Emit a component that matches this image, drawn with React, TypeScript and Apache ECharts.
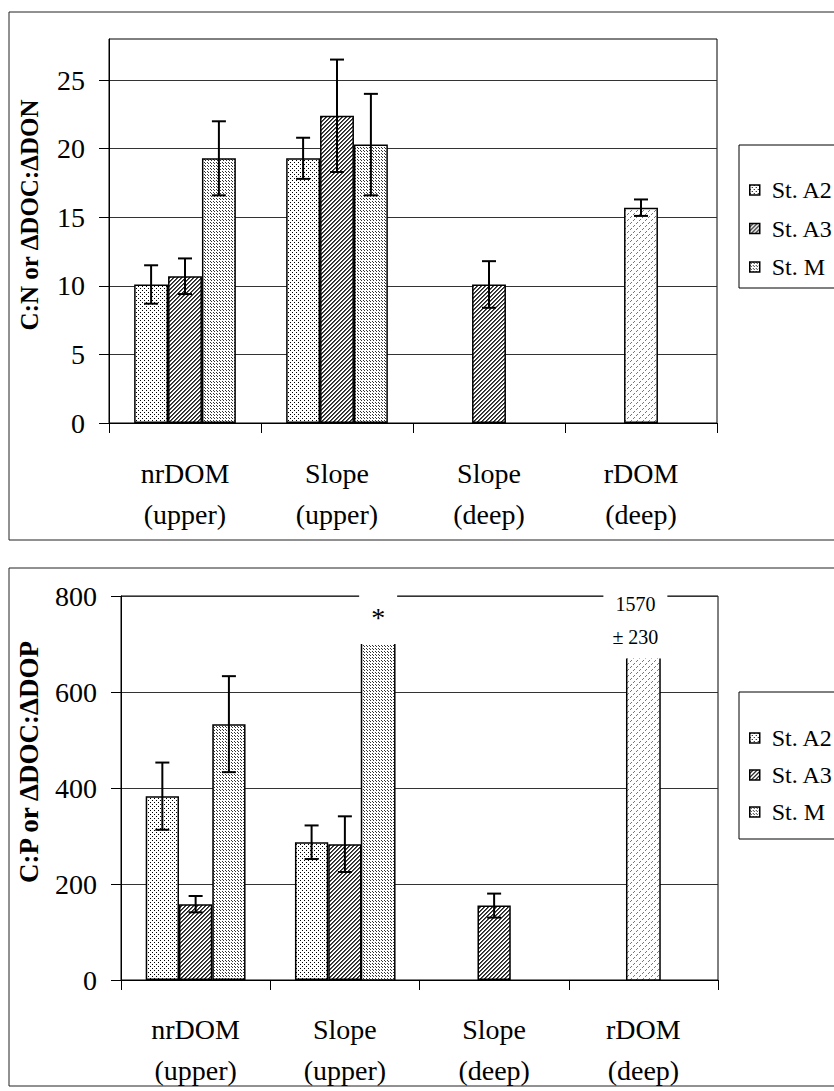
import React, { useEffect, useRef } from 'react';
import * as echarts from 'echarts';

// ---------- data ----------
const categories = ['nrDOM\n(upper)', 'Slope\n(upper)', 'Slope\n(deep)', 'rDOM\n(deep)'];
const seriesNames = ['St. A2', 'St. A3', 'St. M'];

// C:N or ΔDOC:ΔDON (top chart)
const cnA2 = [10.1, 19.3, null, null];
const cnA2Err = [1.4, 1.5, null, null];
const cnA3 = [10.7, 22.4, 10.1, 15.7]; // rDOM (deep) drawn in the A3 slot with its own fill
const cnA3Err = [1.3, 4.1, 1.7, 0.6];
const cnM = [19.3, 20.3, null, null];
const cnMErr = [2.7, 3.7, null, null];
const cnTicks = [0, 5, 10, 15, 20, 25];

// C:P or ΔDOC:ΔDOP (bottom chart) — truncated bars are shown at their cut height
const cpA2 = [383, 287, null, null];
const cpA2Err = [70, 35, null, null];
const cpA3 = [158, 283, 155, 670];
const cpA3Err = [17, 58, 25, null];
const cpA3Truncated = [false, false, false, true];
const cpA3Note = [null, null, null, '1570\n± 230'];
const cpM = [533, 700, null, null];
const cpMErr = [100, null, null, null];
const cpMTruncated = [false, true, false, false];
const cpMNote = [null, '*', null, null];

const specialIdx = 3; // rDOM (deep) bar, separate fill

// ---------- styles ----------
const FONT = 'Liberation Serif';
const BAR_RATIO = 0.223;

function makePattern(w: number, h: number, pts: [number, number, string][]) {
  const c = document.createElement('canvas');
  c.width = w;
  c.height = h;
  const ctx = c.getContext('2d')!;
  ctx.fillStyle = '#ffffff';
  ctx.fillRect(0, 0, w, h);
  for (const [x, y, col] of pts) {
    ctx.fillStyle = col;
    ctx.fillRect(x, y, 1, 1);
  }
  return { image: c, repeat: 'repeat', imageWidth: w, imageHeight: h } as any;
}

export default function App() {
  const ref = useRef<HTMLDivElement>(null);

  useEffect(() => {
    const chart = echarts.init(ref.current!, null, { renderer: 'svg' });

    const pA2 = makePattern(4, 4, [[0, 0, '#000'], [2, 2, '#000']]);
    const pA3 = makePattern(4, 4, [
      [2, 0, '#222'], [3, 0, '#555'], [1, 1, '#222'], [2, 1, '#555'],
      [0, 2, '#222'], [1, 2, '#555'], [3, 3, '#222'], [0, 3, '#555'],
    ]);
    const pM = makePattern(3, 3, [[0, 0, '#333'], [1, 1, '#333']]);
    const pR = makePattern(6, 6, [[1, 0, '#777'], [0, 1, '#777'], [4, 3, '#777'], [3, 4, '#777']]);
    const fills = [pA2, pA3, pM];

    const labelStyles: Record<string, any> = {
      '*': {
        fontSize: 28, fontFamily: FONT, color: '#000', lineHeight: 28,
        backgroundColor: '#fff', padding: [14, 12, 10, 12], distance: 3,
      },
      num: {
        fontSize: 20, fontFamily: FONT, color: '#000', lineHeight: 33,
        backgroundColor: '#fff', padding: [0, 9, 2, 9], distance: 3, offset: [-8, 0],
      },
    };

    const bars = (
      gi: number,
      vals: (number | null)[][],
      truncated: (boolean[] | null)[],
      notes: ((string | null)[] | null)[]
    ) =>
      vals.map((arr, s) => ({
        type: 'bar',
        name: seriesNames[s],
        xAxisIndex: gi,
        yAxisIndex: gi,
        barWidth: `${BAR_RATIO * 100}%`,
        barGap: '0%',
        itemStyle: { color: fills[s], borderColor: '#000', borderWidth: 1.5 },
        data: arr.map((v, i) => {
          if (v == null) return null;
          const item: any = { value: v };
          const st: any = {};
          if (s === 1 && i === specialIdx) st.color = pR;
          if (truncated[s] && truncated[s]![i]) st.borderWidth = 0;
          if (Object.keys(st).length) item.itemStyle = st;
          const note = notes[s] ? notes[s]![i] : null;
          if (note) {
            item.label = {
              show: true, position: 'top', formatter: note,
              ...(note === '*' ? labelStyles['*'] : labelStyles.num),
            };
          }
          return item;
        }),
        z: 2,
      }));

    const errSeries = (gi: number, vals: (number | null)[][], errs: (number | null)[][]) => {
      const data: number[][] = [];
      vals.forEach((arr, s) =>
        arr.forEach((v, i) => {
          const e = errs[s][i];
          if (v != null && e != null) data.push([i, v, e, s]);
        })
      );
      return {
        type: 'custom',
        name: 'err' + gi,
        xAxisIndex: gi,
        yAxisIndex: gi,
        silent: true,
        z: 5,
        encode: { x: 0, y: 1 },
        data,
        renderItem: (_p: any, api: any) => {
          const i = api.value(0), v = api.value(1), e = api.value(2), s = api.value(3);
          const band = api.size([1, 0])[0];
          const bw = band * BAR_RATIO;
          const c = api.coord([i, v]);
          const x = c[0] - 1.5 * bw + (s + 0.5) * bw;
          const yT = api.coord([i, v + e])[1];
          const yB = api.coord([i, v - e])[1];
          const st = { stroke: '#000', lineWidth: 2 };
          return {
            type: 'group',
            children: [
              { type: 'line', shape: { x1: x, y1: yT, x2: x, y2: yB }, style: st },
              { type: 'line', shape: { x1: x - 7, y1: yT, x2: x + 7, y2: yT }, style: st },
              { type: 'line', shape: { x1: x - 7, y1: yB, x2: x + 7, y2: yB }, style: st },
            ],
          };
        },
      };
    };

    const sideSeries = (gi: number, vals: (number | null)[][], truncated: (boolean[] | null)[]) => {
      const data: number[][] = [];
      vals.forEach((arr, s) =>
        arr.forEach((v, i) => {
          if (v != null && truncated[s] && truncated[s]![i]) data.push([i, v, s]);
        })
      );
      return {
        type: 'custom',
        name: 'sides' + gi,
        xAxisIndex: gi,
        yAxisIndex: gi,
        silent: true,
        z: 4,
        encode: { x: 0, y: 1 },
        data,
        renderItem: (_p: any, api: any) => {
          const i = api.value(0), v = api.value(1), s = api.value(2);
          const band = api.size([1, 0])[0];
          const bw = band * BAR_RATIO;
          const c = api.coord([i, v]);
          const b = api.coord([i, 0]);
          const x0 = c[0] - 1.5 * bw + s * bw;
          const x1 = x0 + bw;
          return {
            type: 'polyline',
            shape: { points: [[x0, c[1]], [x0, b[1]], [x1, b[1]], [x1, c[1]]] },
            style: { stroke: '#000', lineWidth: 1.5, fill: 'none' },
          };
        },
      };
    };

    const xAxis = (gi: number, margin: number) => ({
      type: 'category',
      gridIndex: gi,
      data: categories,
      axisLine: { show: true, lineStyle: { color: '#000', width: 1 } },
      axisTick: { show: true, length: 10, lineStyle: { color: '#000', width: 1 } },
      axisLabel: { fontSize: 28, fontFamily: FONT, color: '#000', lineHeight: 41, margin },
      splitLine: { show: false },
    });

    const legend = (top: number, padding: number[], gap: number) => ({
      orient: 'vertical',
      left: 739,
      top,
      data: seriesNames,
      itemWidth: 10,
      itemHeight: 10,
      itemGap: gap,
      icon: 'rect',
      padding,
      backgroundColor: '#fff',
      borderColor: '#000',
      borderWidth: 1,
      itemStyle: { borderColor: '#000', borderWidth: 1.5 },
      textStyle: { fontSize: 24, fontFamily: FONT, color: '#000', lineHeight: 24, padding: [0, 0, 0, 7] },
      selectedMode: false,
    });

    const option: any = {
      animation: false,
      backgroundColor: '#fff',
      textStyle: { fontFamily: FONT },
      grid: [
        { left: 109, top: 39, width: 608, height: 384, show: true, borderColor: '#000', borderWidth: 1, backgroundColor: 'transparent' },
        { left: 121, top: 596, width: 597, height: 386, show: true, borderColor: '#000', borderWidth: 1, backgroundColor: 'transparent' },
      ],
      xAxis: [xAxis(0, 30), xAxis(1, 29)],
      yAxis: [
        {
          type: 'value', gridIndex: 0, min: 0, max: 28, interval: 5,
          axisLine: { show: true, lineStyle: { color: '#000' } },
          axisTick: { show: true, length: 10, lineStyle: { color: '#000' }, customValues: cnTicks },
          axisLabel: { fontSize: 28, fontFamily: FONT, color: '#000', margin: 24, customValues: cnTicks },
          splitLine: { show: true, lineStyle: { color: '#333', width: 1 } },
        },
        {
          type: 'value', gridIndex: 1, min: 0, max: 800, interval: 200,
          axisLine: { show: true, lineStyle: { color: '#000' } },
          axisTick: { show: true, length: 10, lineStyle: { color: '#000' } },
          axisLabel: { fontSize: 28, fontFamily: FONT, color: '#000', margin: 24 },
          splitLine: { show: true, lineStyle: { color: '#333', width: 1 } },
        },
      ],
      legend: [legend(145, [33, 30, 9, 10], 14.5), legend(692, [34, 30, 15, 10], 13)],
      graphic: [
        { type: 'rect', shape: { x: 9, y: 12, width: 900, height: 528 }, style: { fill: 'none', stroke: '#222', lineWidth: 1 }, z: -1 },
        { type: 'rect', shape: { x: 9, y: 568, width: 900, height: 518 }, style: { fill: 'none', stroke: '#222', lineWidth: 1 }, z: -1 },
        {
          type: 'text', x: 29, y: 215, rotation: Math.PI / 2,
          style: { text: 'C:N or ΔDOC:ΔDON', fontSize: 25, fontWeight: 'bold', fontFamily: FONT, fill: '#000', align: 'center', verticalAlign: 'middle' },
        },
        {
          type: 'text', x: 29, y: 762, rotation: Math.PI / 2,
          style: { text: 'C:P or ΔDOC:ΔDOP', fontSize: 27, fontWeight: 'bold', fontFamily: FONT, fill: '#000', align: 'center', verticalAlign: 'middle' },
        },
      ],
      series: [
        ...bars(0, [cnA2, cnA3, cnM], [null, null, null], [null, null, null]),
        errSeries(0, [cnA2, cnA3, cnM], [cnA2Err, cnA3Err, cnMErr]),
        ...bars(1, [cpA2, cpA3, cpM], [null, cpA3Truncated, cpMTruncated], [null, cpA3Note, cpMNote]),
        errSeries(1, [cpA2, cpA3, cpM], [cpA2Err, cpA3Err, cpMErr]),
        sideSeries(1, [cpA2, cpA3, cpM], [null, cpA3Truncated, cpMTruncated]),
      ],
    };

    chart.setOption(option);
    return () => chart.dispose();
  }, []);

  return <div ref={ref} style={{ position: 'absolute', left: 0, top: 0, width: 834, height: 1091 }} />;
}
